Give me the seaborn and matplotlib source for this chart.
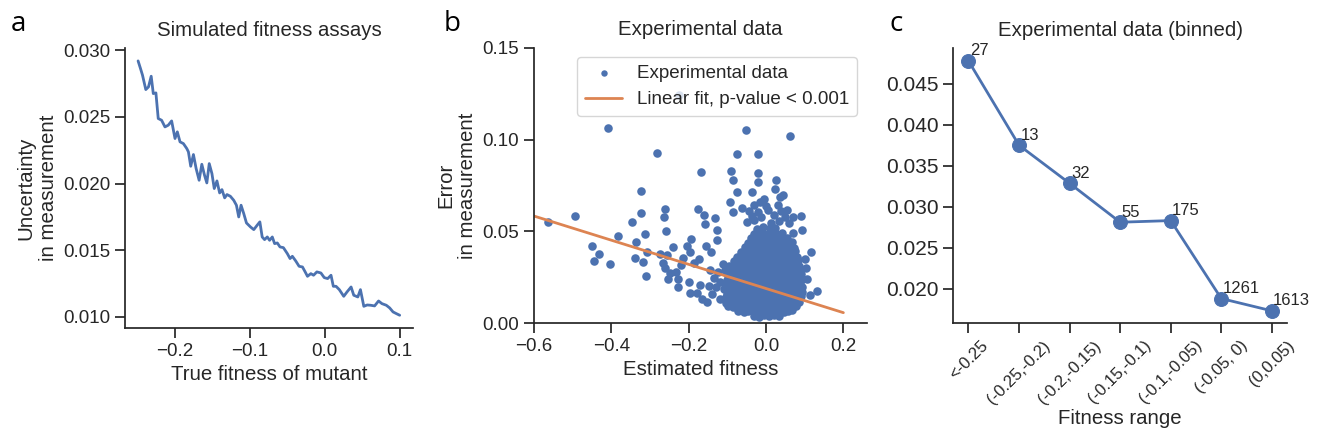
import matplotlib
matplotlib.use("Agg")
import matplotlib.pyplot as plt
import seaborn as sns

# ---- panel a: simulated fitness assays ----
true_fitness = [
    -0.2493, -0.2461, -0.2434, -0.2390, -0.2354, -0.2318, -0.2290, -0.2255, -0.2224, -0.2179,
    -0.2134, -0.2090, -0.2045, -0.2000, -0.1969, -0.1933, -0.1888, -0.1843, -0.1821, -0.1790,
    -0.1754, -0.1718, -0.1678, -0.1642, -0.1606, -0.1575, -0.1543, -0.1507, -0.1476, -0.1440,
    -0.1404, -0.1373, -0.1337, -0.1306, -0.1261, -0.1216, -0.1180, -0.1149, -0.1118, -0.1082,
    -0.1046, -0.0992, -0.0948, -0.0903, -0.0867, -0.0836, -0.0804, -0.0768, -0.0737, -0.0701,
    -0.0670, -0.0634, -0.0598, -0.0553, -0.0500, -0.0464, -0.0433, -0.0388, -0.0343, -0.0298,
    -0.0262, -0.0231, -0.0186, -0.0150, -0.0106, -0.0052, -0.0007, 0.0038, 0.0083, 0.0114,
    0.0150, 0.0194, 0.0253, 0.0297, 0.0351, 0.0387, 0.0441, 0.0476, 0.0521, 0.0566,
    0.0611, 0.0665, 0.0718, 0.0763, 0.0821, 0.0866, 0.0911, 0.0956, 0.1000,
]
uncertainty = [
    0.02920, 0.02863, 0.02813, 0.02705, 0.02725, 0.02805, 0.02675, 0.02680, 0.02488, 0.02475,
    0.02425, 0.02438, 0.02470, 0.02338, 0.02388, 0.02313, 0.02300, 0.02263, 0.02238, 0.02130,
    0.02218, 0.02113, 0.02025, 0.02145, 0.02063, 0.02005, 0.02150, 0.02075, 0.01963, 0.02020,
    0.01930, 0.01955, 0.01893, 0.01918, 0.01905, 0.01875, 0.01838, 0.01750, 0.01838, 0.01775,
    0.01705, 0.01675, 0.01655, 0.01688, 0.01713, 0.01600, 0.01580, 0.01600, 0.01575, 0.01600,
    0.01550, 0.01555, 0.01525, 0.01520, 0.01475, 0.01438, 0.01455, 0.01420, 0.01380, 0.01375,
    0.01338, 0.01305, 0.01325, 0.01313, 0.01338, 0.01330, 0.01295, 0.01288, 0.01313, 0.01230,
    0.01230, 0.01205, 0.01155, 0.01188, 0.01225, 0.01163, 0.01150, 0.01205, 0.01080, 0.01090,
    0.01088, 0.01083, 0.01120, 0.01100, 0.01088, 0.01068, 0.01038, 0.01025, 0.01013,
]

# ---- panel b: experimental data (estimated fitness, error) ----
sparse_points = [
    (-0.564, 0.0553), (-0.495, 0.0584), (-0.409, 0.1065), (-0.451, 0.0423), (-0.432, 0.0377),
    (-0.445, 0.0341), (-0.404, 0.0323), (-0.382, 0.0475), (-0.346, 0.0549), (-0.324, 0.0719),
    (-0.324, 0.0603), (-0.314, 0.0485), (-0.336, 0.0440), (-0.339, 0.0357), (-0.317, 0.0335),
    (-0.309, 0.0257), (-0.307, 0.0390), (-0.281, 0.0929), (-0.261, 0.0620), (-0.265, 0.0577),
    (-0.259, 0.0504), (-0.275, 0.0375), (-0.256, 0.0372), (-0.267, 0.0326), (-0.260, 0.0302),
    (-0.241, 0.0413), (-0.247, 0.0272), (-0.253, 0.0239), (-0.234, 0.0280), (-0.227, 0.0239),
    (-0.228, 0.0196), (-0.215, 0.0353), (-0.220, 0.0317), (-0.226, 0.1245), (-0.204, 0.0422),
    (-0.194, 0.0457), (-0.196, 0.0386), (-0.200, 0.0226), (-0.197, 0.0163), (-0.187, 0.0326),
    (-0.168, 0.0821), (-0.176, 0.0620), (-0.161, 0.0589), (-0.159, 0.0540), (-0.155, 0.0423),
    (-0.174, 0.0348), (-0.178, 0.0163), (-0.165, 0.0132), (-0.170, 0.0208), (-0.142, 0.0390),
    (-0.131, 0.0571), (-0.128, 0.0508), (-0.127, 0.0453), (-0.090, 0.0831), (-0.085, 0.0780),
    (-0.075, 0.0919), (-0.075, 0.0716), (-0.094, 0.0658), (-0.085, 0.0607), (-0.052, 0.1051),
    (-0.021, 0.0919), (-0.021, 0.0819), (-0.021, 0.0767), (-0.036, 0.0713), (0.063, 0.1020),
    (0.027, 0.0779), (0.023, 0.0730), (0.035, 0.0688), (0.045, 0.0701), (-0.006, 0.0679),
    (-0.015, 0.0658), (-0.062, 0.0625), (0.091, 0.0584), (0.093, 0.0508), (0.116, 0.0390),
    (0.104, 0.0299), (0.132, 0.0176), (0.114, 0.0154), (0.106, 0.0239), (0.100, 0.0348),
    (0.071, 0.0580), (0.054, 0.0616), (0.071, 0.0490), (-0.048, 0.0552), (-0.030, 0.0561),
    (0.014, 0.0548), (0.034, 0.0556), (0.060, 0.0545), (-0.035, 0.0583), (-0.012, 0.0577),
    (0.020, 0.0588), (0.048, 0.0579), (-0.045, 0.0611), (-0.020, 0.0605), (0.005, 0.0617),
    (0.040, 0.0609), (-0.030, 0.0642), (0.000, 0.0637), (0.032, 0.0645),
    (-0.148, 0.0205), (-0.135, 0.0245), (-0.140, 0.0160), (-0.125, 0.0280), (-0.130, 0.0195),
    (-0.118, 0.0130), (-0.120, 0.0225), (-0.145, 0.0290), (-0.152, 0.0118), (-0.112, 0.0325),
]
dense_points = [
    (-0.032, 0.0041), (-0.018, 0.0036), (-0.004, 0.0044), (0.009, 0.0038), (0.021, 0.0045), (0.033, 0.0040),
    (-0.072, 0.0068), (-0.058, 0.0062), (-0.046, 0.0066), (-0.031, 0.0061), (-0.019, 0.0069), (-0.006, 0.0063),
    (0.007, 0.0067), (0.020, 0.0062), (0.034, 0.0068), (0.046, 0.0064), (0.058, 0.0069), (0.068, 0.0074),
    (-0.098, 0.0093), (-0.085, 0.0088), (-0.071, 0.0092), (-0.060, 0.0087), (-0.047, 0.0091), (-0.033, 0.0086),
    (-0.021, 0.0093), (-0.008, 0.0088), (0.004, 0.0091), (0.017, 0.0087), (0.030, 0.0092), (0.043, 0.0088),
    (0.055, 0.0093), (0.067, 0.0089), (0.078, 0.0094),
    (-0.104, 0.0112), (-0.091, 0.0117), (-0.079, 0.0113), (-0.066, 0.0116), (-0.052, 0.0111),
    (-0.040, 0.0118), (-0.027, 0.0113), (-0.014, 0.0116), (-0.001, 0.0112), (0.012, 0.0117), (0.025, 0.0113),
    (0.038, 0.0118), (0.050, 0.0112), (0.063, 0.0116), (0.075, 0.0113), (0.086, 0.0118),
    (-0.103, 0.0142), (-0.090, 0.0137), (-0.077, 0.0141), (-0.064, 0.0138),
    (-0.051, 0.0143), (-0.038, 0.0137), (-0.025, 0.0142), (-0.012, 0.0138), (0.001, 0.0141), (0.014, 0.0137),
    (0.027, 0.0143), (0.040, 0.0138), (0.053, 0.0142), (0.066, 0.0137), (0.078, 0.0141), (0.090, 0.0146),
    (-0.101, 0.0162), (-0.088, 0.0166), (-0.075, 0.0163),
    (-0.062, 0.0168), (-0.049, 0.0162), (-0.036, 0.0167), (-0.023, 0.0163), (-0.010, 0.0166), (0.003, 0.0162),
    (0.016, 0.0168), (0.029, 0.0163), (0.042, 0.0167), (0.055, 0.0162), (0.068, 0.0166), (0.080, 0.0163),
    (0.092, 0.0168),
    (-0.109, 0.0187), (-0.096, 0.0191), (-0.083, 0.0188),
    (-0.070, 0.0193), (-0.057, 0.0187), (-0.044, 0.0192), (-0.031, 0.0188), (-0.018, 0.0191), (-0.005, 0.0187),
    (0.008, 0.0193), (0.021, 0.0188), (0.034, 0.0192), (0.047, 0.0187), (0.060, 0.0191), (0.073, 0.0188),
    (0.085, 0.0193), (0.094, 0.0197),
    (-0.106, 0.0212), (-0.093, 0.0216), (-0.080, 0.0213),
    (-0.067, 0.0218), (-0.054, 0.0212), (-0.041, 0.0217), (-0.028, 0.0213), (-0.015, 0.0216), (-0.002, 0.0212),
    (0.011, 0.0218), (0.024, 0.0213), (0.037, 0.0217), (0.050, 0.0212), (0.063, 0.0216), (0.076, 0.0213),
    (0.088, 0.0218),
    (-0.100, 0.0237), (-0.087, 0.0241), (-0.074, 0.0238),
    (-0.061, 0.0243), (-0.048, 0.0237), (-0.035, 0.0242), (-0.022, 0.0238), (-0.009, 0.0241), (0.004, 0.0237),
    (0.017, 0.0243), (0.030, 0.0238), (0.043, 0.0242), (0.056, 0.0237), (0.069, 0.0241), (0.082, 0.0238),
    (0.093, 0.0243),
    (-0.102, 0.0267), (-0.089, 0.0262), (-0.076, 0.0266), (-0.063, 0.0263),
    (-0.050, 0.0268), (-0.037, 0.0262), (-0.024, 0.0267), (-0.011, 0.0263), (0.002, 0.0266), (0.015, 0.0262),
    (0.028, 0.0268), (0.041, 0.0263), (0.054, 0.0267), (0.067, 0.0262), (0.080, 0.0266), (0.090, 0.0271),
    (-0.105, 0.0288), (-0.092, 0.0292), (-0.079, 0.0287), (-0.066, 0.0291), (-0.053, 0.0288),
    (-0.040, 0.0293), (-0.027, 0.0287), (-0.014, 0.0292), (-0.001, 0.0288), (0.012, 0.0291), (0.025, 0.0287),
    (0.038, 0.0293), (0.051, 0.0288), (0.064, 0.0292), (0.077, 0.0287), (0.087, 0.0292),
    (-0.095, 0.0313), (-0.082, 0.0317), (-0.069, 0.0312), (-0.056, 0.0316), (-0.043, 0.0313),
    (-0.030, 0.0318), (-0.017, 0.0312), (-0.004, 0.0317), (0.009, 0.0313), (0.022, 0.0316), (0.035, 0.0312),
    (0.048, 0.0318), (0.061, 0.0313), (0.074, 0.0317), (0.085, 0.0312),
    (-0.084, 0.0338), (-0.071, 0.0342), (-0.058, 0.0337), (-0.045, 0.0341), (-0.032, 0.0338),
    (-0.019, 0.0343), (-0.006, 0.0337), (0.007, 0.0342), (0.020, 0.0338), (0.033, 0.0341), (0.046, 0.0337),
    (0.059, 0.0343), (0.072, 0.0338), (0.082, 0.0342),
    (-0.075, 0.0363), (-0.062, 0.0367), (-0.049, 0.0362), (-0.036, 0.0366), (-0.023, 0.0363),
    (-0.010, 0.0368), (0.003, 0.0362), (0.016, 0.0367), (0.029, 0.0363), (0.042, 0.0366), (0.055, 0.0362),
    (0.068, 0.0368), (0.079, 0.0363),
    (-0.065, 0.0388), (-0.052, 0.0392), (-0.039, 0.0387), (-0.026, 0.0391), (-0.013, 0.0388),
    (0.000, 0.0393), (0.013, 0.0387), (0.026, 0.0392), (0.039, 0.0388), (0.052, 0.0391), (0.065, 0.0387),
    (0.076, 0.0392),
    (-0.055, 0.0413), (-0.042, 0.0417), (-0.029, 0.0412), (-0.016, 0.0416), (-0.003, 0.0413),
    (0.010, 0.0418), (0.023, 0.0412), (0.036, 0.0417), (0.049, 0.0413), (0.062, 0.0416), (0.072, 0.0412),
    (-0.046, 0.0438), (-0.033, 0.0442), (-0.020, 0.0437), (-0.007, 0.0441), (0.006, 0.0438),
    (0.019, 0.0443), (0.032, 0.0437), (0.045, 0.0442), (0.058, 0.0438), (0.068, 0.0443),
    (-0.038, 0.0463), (-0.024, 0.0467), (-0.011, 0.0462), (0.002, 0.0466), (0.015, 0.0463),
    (0.028, 0.0468), (0.041, 0.0462), (0.054, 0.0467),
    (-0.030, 0.0488), (-0.016, 0.0493), (-0.002, 0.0487), (0.013, 0.0491), (0.027, 0.0488),
    (0.041, 0.0493),
    (-0.023, 0.0516), (-0.008, 0.0522), (0.010, 0.0517), (0.024, 0.0521),
]
fit_x = [-0.6, 0.2]
fit_y = [0.0584, 0.0058]

# ---- panel c: binned experimental data ----
fitness_bins = ["<-0.25", "(-0.25,-0.2)", "(-0.2,-0.15)", "(-0.15,-0.1)",
                "(-0.1,-0.05)", "(-0.05, 0)", "(0,0.05)"]
bin_error = [0.0478, 0.0375, 0.03285, 0.0281, 0.0283, 0.01878, 0.01728]
bin_counts = [27, 13, 32, 55, 175, 1261, 1613]

est_fitness = [p[0] for p in sparse_points + dense_points]
meas_error = [p[1] for p in sparse_points + dense_points]

sns.set_theme(style="ticks")
plt.rcParams["font.family"] = ["Liberation Sans", "DejaVu Sans"]
plt.rcParams["xtick.major.size"] = 7
plt.rcParams["ytick.major.size"] = 7

blue = "#4C72B0"
orange = "#DD8452"
lab_fs = 14.7
tick_fs = 13.5

fig = plt.figure(figsize=(13.2, 4.42), dpi=100)
ax1 = fig.add_axes([0.0947, 0.258, 0.218, 0.633])
ax2 = fig.add_axes([0.4045, 0.2685, 0.252, 0.6235])
ax3 = fig.add_axes([0.7222, 0.2685, 0.2528, 0.622])

# a
sns.lineplot(x=true_fitness, y=uncertainty, ax=ax1, color=blue, lw=2)
ax1.set_xlabel("True fitness of mutant", fontsize=lab_fs)
ax1.set_ylabel("Uncertainty\nin measurement", fontsize=lab_fs)
ax1.set_title("Simulated fitness assays", fontsize=lab_fs, pad=9)
ax1.set_xticks([-0.2, -0.1, 0.0, 0.1])
ax1.set_yticks([0.010, 0.015, 0.020, 0.025, 0.030])
ax1.tick_params(labelsize=tick_fs)

# b
sns.scatterplot(x=est_fitness, y=meas_error, ax=ax2, color=blue, s=38,
                linewidth=0, label="Experimental data")
sns.lineplot(x=fit_x, y=fit_y, ax=ax2, color=orange, lw=2,
             label="Linear fit, p-value < 0.001")
ax2.set_xlim(-0.6, 0.26)
ax2.set_ylim(0, 0.15)
ax2.set_xticks([-0.6, -0.4, -0.2, 0.0, 0.2])
ax2.set_yticks([0.0, 0.05, 0.10, 0.15])
ax2.set_xlabel("Estimated fitness", fontsize=lab_fs)
ax2.set_ylabel("Error\nin measurement", fontsize=lab_fs)
ax2.set_title("Experimental data", fontsize=lab_fs, pad=9)
ax2.tick_params(labelsize=tick_fs)
ax2.legend(loc="upper right", fontsize=13.5, markerscale=0.75)

# c
sns.lineplot(x=fitness_bins, y=bin_error, ax=ax3, color=blue, lw=2, sort=False,
             marker="o", markersize=10, markeredgecolor=blue)
for i, (v, n) in enumerate(zip(bin_error, bin_counts)):
    ax3.annotate(str(n), (i, v), xytext=(1, 4), textcoords="offset points",
                 fontsize=12, color=".15")
ax3.set_xlabel("Fitness range", fontsize=lab_fs, labelpad=2)
ax3.set_title("Experimental data (binned)", fontsize=lab_fs, pad=9)
ax3.set_yticks([0.020, 0.025, 0.030, 0.035, 0.040, 0.045])
ax3.tick_params(axis="y", labelsize=15)
ax3.tick_params(axis="x", labelsize=12, rotation=45)

sns.despine(fig=fig)

for x, y, s in [(0.008, 0.93, "a"), (0.336, 0.93, "b"), (0.674, 0.93, "c")]:
    fig.text(x, y, s, fontsize=20, family="Open Sans", color="black")

fig.savefig("out.png", dpi=100)
